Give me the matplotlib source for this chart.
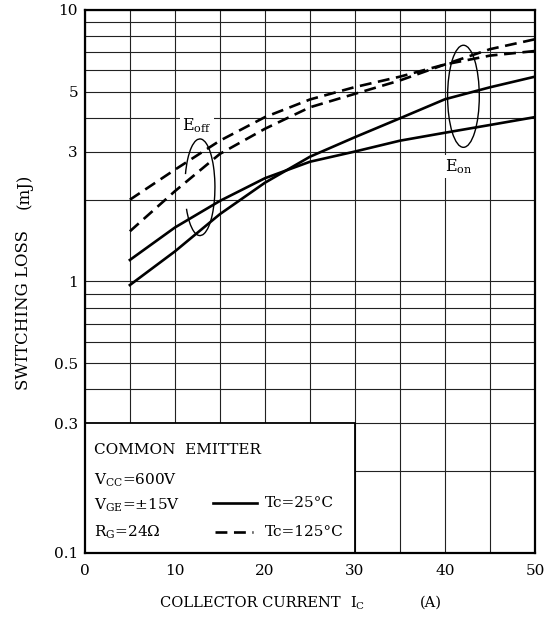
import matplotlib
matplotlib.use("Agg")
import matplotlib.pyplot as plt
from matplotlib.patches import Rectangle, Arc, Ellipse

plt.rcParams["font.family"] = ["DejaVu Serif"]
plt.rcParams["mathtext.fontset"] = "dejavuserif"

# collector current (A)
ic = [5, 10, 15, 20, 25, 30, 35, 40, 45, 50]
# switching loss (mJ)
eoff_25 = [1.20, 1.58, 1.98, 2.40, 2.76, 3.01, 3.30, 3.53, 3.77, 4.03]
eon_25 = [0.97, 1.29, 1.77, 2.31, 2.88, 3.40, 3.99, 4.69, 5.19, 5.68]
eoff_125 = [2.00, 2.58, 3.30, 4.03, 4.68, 5.20, 5.68, 6.30, 6.79, 7.06]
eon_125 = [1.53, 2.15, 2.95, 3.65, 4.38, 4.91, 5.50, 6.30, 7.17, 7.80]

x_ticks = [0, 10, 20, 30, 40, 50]
y_ticks = [0.1, 0.3, 0.5, 1, 3, 5, 10]
y_tick_labels = ["0.1", "0.3", "0.5", "1", "3", "5", "10"]
y_grid = [0.2, 0.4, 0.6, 0.7, 0.8, 0.9, 2, 4, 6, 7, 8, 9]

fig = plt.figure(figsize=(5.51, 6.22), dpi=100)
ax = fig.add_axes([0.154, 0.111, 0.817, 0.873])

ax.set_yscale("log")
ax.set_xlim(0, 50)
ax.set_ylim(0.1, 10)

ax.set_xticks(x_ticks)
ax.set_xticks(range(0, 51, 5), minor=True)
ax.set_yticks(y_ticks)
ax.set_yticklabels(y_tick_labels)
ax.set_yticks(y_grid, minor=True)
ax.set_yticklabels([], minor=True)
ax.tick_params(which="both", length=0)
ax.tick_params(axis="x", pad=8, labelsize=11)
ax.tick_params(axis="y", pad=5, labelsize=11)

ax.set_axisbelow(True)
ax.grid(which="both", color="#222222", linewidth=0.8)
for s in ax.spines.values():
    s.set_linewidth(1.6)

# condition box covering the grid in the lower-left
ax.add_patch(Rectangle((0, 0.1), 30, 0.2, facecolor="white", edgecolor="black",
                       linewidth=1.3, zorder=1.5))

dash = (4.5, 2.5)
ax.plot(ic, eoff_25, color="black", linewidth=1.9, zorder=3)
ax.plot(ic, eon_25, color="black", linewidth=1.9, zorder=3)
ax.plot(ic, eoff_125, color="black", linewidth=1.9, dashes=dash, zorder=3)
ax.plot(ic, eon_125, color="black", linewidth=1.9, dashes=dash, zorder=3)

# ellipses marking the curve groups
ax.add_patch(Arc((0.2556, 0.6735), 0.0667, 0.178, theta1=-127, theta2=143,
                 transform=ax.transAxes, color="black", linewidth=1.0, zorder=4))
ax.add_patch(Ellipse((0.841, 0.841), 0.0704, 0.188, transform=ax.transAxes,
                     fill=False, edgecolor="black", linewidth=1.0, zorder=4))

lbl_box = dict(facecolor="white", edgecolor="none", pad=1.5)
ax.text(0.249, 0.787, r"E$_{\mathrm{off}}$", transform=ax.transAxes, fontsize=11.5,
        ha="center", va="center", bbox=lbl_box, zorder=5)
ax.text(0.831, 0.712, r"E$_{\mathrm{on}}$", transform=ax.transAxes, fontsize=11.5,
        ha="center", va="center", bbox=lbl_box, zorder=5)

# conditions text
tx = 0.02
fs = 11
ax.text(tx, 0.190, "COMMON  EMITTER", transform=ax.transAxes, fontsize=fs,
        va="center", zorder=5)
ax.text(tx, 0.134, r"V$_{\mathrm{CC}}$=600V", transform=ax.transAxes, fontsize=fs,
        va="center", zorder=5)
ax.text(tx, 0.087, r"V$_{\mathrm{GE}}$=$\pm$15V", transform=ax.transAxes, fontsize=fs,
        va="center", zorder=5)
ax.text(tx, 0.038, r"R$_{\mathrm{G}}$=24$\Omega$", transform=ax.transAxes, fontsize=fs,
        va="center", zorder=5)

ax.plot([0.284, 0.382], [0.092, 0.092], transform=ax.transAxes, color="black",
        linewidth=1.9, zorder=5)
ax.plot([0.289, 0.373], [0.038, 0.038], transform=ax.transAxes, color="black",
        linewidth=1.9, dashes=dash, zorder=5)
ax.text(0.40, 0.092, "Tc=25°C", transform=ax.transAxes, fontsize=fs,
        va="center", zorder=5)
ax.text(0.40, 0.038, "Tc=125°C", transform=ax.transAxes, fontsize=fs,
        va="center", zorder=5)

# axis titles
fig.text(24 / 551, 1 - 310 / 622, "SWITCHING LOSS", rotation=90, fontsize=12,
         ha="center", va="center")
fig.text(24 / 551, 1 - 191 / 622, "(mJ)", rotation=90, fontsize=12,
         ha="center", va="center")
fig.text(160 / 551, 1 - 603 / 622, "COLLECTOR CURRENT", fontsize=10.5,
         ha="left", va="center")
fig.text(350 / 551, 1 - 603 / 622, r"I$_{\mathrm{C}}$", fontsize=10.5,
         ha="left", va="center")
fig.text(420 / 551, 1 - 603 / 622, "(A)", fontsize=10.5,
         ha="left", va="center")

fig.savefig("out.png", dpi=100)
